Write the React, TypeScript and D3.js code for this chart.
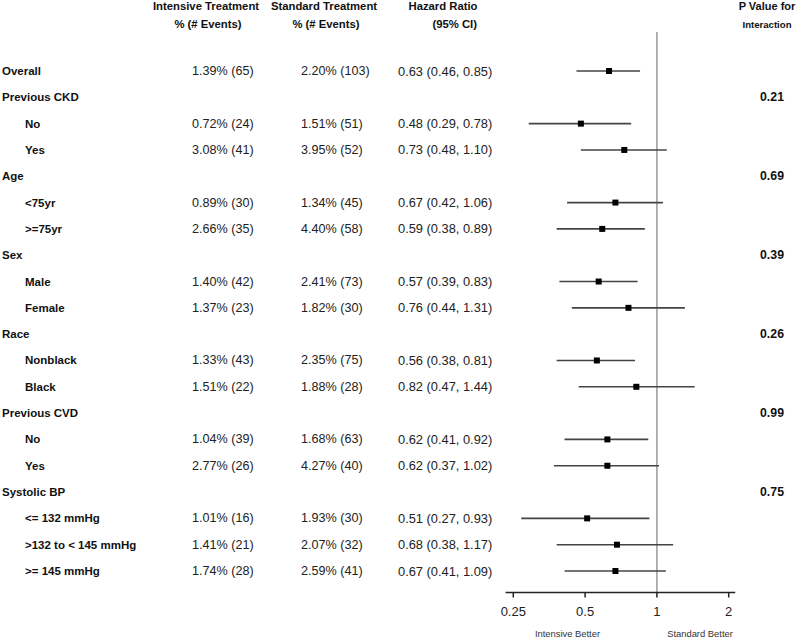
import React from "react";
import * as d3 from "d3";

const rowLabels = [
  "Overall", "Previous CKD", "No", "Yes", "Age", "<75yr", ">=75yr", "Sex", "Male", "Female",
  "Race", "Nonblack", "Black", "Previous CVD", "No", "Yes", "Systolic BP", "<= 132 mmHg",
  ">132 to < 145 mmHg", ">= 145 mmHg",
];
const rowLevels = [0, 0, 1, 1, 0, 1, 1, 0, 1, 1, 0, 1, 1, 0, 1, 1, 0, 1, 1, 1];
const intensiveText = [
  "1.39% (65)", "", "0.72% (24)", "3.08% (41)", "", "0.89% (30)", "2.66% (35)", "", "1.40% (42)", "1.37% (23)",
  "", "1.33% (43)", "1.51% (22)", "", "1.04% (39)", "2.77% (26)", "", "1.01% (16)", "1.41% (21)", "1.74% (28)",
];
const standardText = [
  "2.20% (103)", "", "1.51% (51)", "3.95% (52)", "", "1.34% (45)", "4.40% (58)", "", "2.41% (73)", "1.82% (30)",
  "", "2.35% (75)", "1.88% (28)", "", "1.68% (63)", "4.27% (40)", "", "1.93% (30)", "2.07% (32)", "2.59% (41)",
];
const hrPoint = [0.63, null, 0.48, 0.73, null, 0.67, 0.59, null, 0.57, 0.76, null, 0.56, 0.82, null, 0.62, 0.62, null, 0.51, 0.68, 0.67];
const hrLow = [0.46, null, 0.29, 0.48, null, 0.42, 0.38, null, 0.39, 0.44, null, 0.38, 0.47, null, 0.41, 0.37, null, 0.27, 0.38, 0.41];
const hrHigh = [0.85, null, 0.78, 1.10, null, 1.06, 0.89, null, 0.83, 1.31, null, 0.81, 1.44, null, 0.92, 1.02, null, 0.93, 1.17, 1.09];
const pValues = ["", "0.21", "", "", "0.69", "", "", "0.39", "", "", "0.26", "", "", "0.99", "", "", "0.75", "", "", ""];
const axisTicks = [0.25, 0.5, 1, 2];
const axisTickLabels = ["0.25", "0.5", "1", "2"];
const axisExtent = [0.232, 2.13];

const FONT = "'Liberation Sans', Arial, Helvetica, sans-serif";

export default function App() {
  const x = d3.scaleLog().base(2).domain([0.25, 2]).range([513.3, 728.7]);
  const y = d3.scaleLinear().domain([0, rowLabels.length - 1]).range([71, 571]);
  const axisY = 592.5;
  const fmt = (v: number) => v.toFixed(2);

  return (
    <svg
      width={800}
      height={639}
      style={{ position: "absolute", left: 0, top: 0, background: "#fff" }}
      fontFamily={FONT}
    >
      <rect x={0} y={0} width={800} height={639} fill="#fff" />
      {/* headers */}
      <g fontWeight="bold" fontSize={11.3} fill="#111">
        <text x={206} y={6} textAnchor="middle" dominantBaseline="central">Intensive Treatment</text>
        <text x={208} y={24} textAnchor="middle" dominantBaseline="central">% (# Events)</text>
        <text x={324} y={6} textAnchor="middle" dominantBaseline="central">Standard Treatment</text>
        <text x={326} y={24} textAnchor="middle" dominantBaseline="central">% (# Events)</text>
        <text x={443} y={6} textAnchor="middle" dominantBaseline="central">Hazard Ratio</text>
        <text x={477} y={24} textAnchor="end" dominantBaseline="central">(95% CI)</text>
        <text x={767} y={6} textAnchor="middle" dominantBaseline="central" fontSize={11}>P Value for</text>
        <text x={767} y={24} textAnchor="middle" dominantBaseline="central" fontSize={9.6}>Interaction</text>
      </g>

      {/* reference line */}
      <line x1={x(1)} x2={x(1)} y1={32} y2={axisY} stroke="#9a9a9a" strokeWidth={1.5} />

      {/* rows */}
      {rowLabels.map((lab, i) => {
        const yy = y(i);
        const p = hrPoint[i];
        return (
          <g key={i}>
            <text
              x={rowLevels[i] === 0 ? 2 : 25}
              y={yy}
              dominantBaseline="central"
              fontWeight="bold"
              fontSize={11.5}
              fill="#111"
            >
              {lab}
            </text>
            {intensiveText[i] && (
              <text x={192} y={yy} dominantBaseline="central" fontSize={12.6} fill="#222">{intensiveText[i]}</text>
            )}
            {standardText[i] && (
              <text x={301} y={yy} dominantBaseline="central" fontSize={12.6} fill="#222">{standardText[i]}</text>
            )}
            {p !== null && (
              <>
                <text x={398} y={yy} dominantBaseline="central" fontSize={12.85} fill="#222">
                  {`${fmt(p)} (${fmt(hrLow[i] as number)}, ${fmt(hrHigh[i] as number)})`}
                </text>
                <line
                  x1={x(hrLow[i] as number)}
                  x2={x(hrHigh[i] as number)}
                  y1={yy}
                  y2={yy}
                  stroke="#444"
                  strokeWidth={1.6}
                />
                <rect x={x(p) - 3} y={yy - 3} width={6} height={6} fill="#000" />
              </>
            )}
            {pValues[i] && (
              <text x={772} y={yy} textAnchor="middle" dominantBaseline="central" fontWeight="bold" fontSize={12.3} fill="#111">
                {pValues[i]}
              </text>
            )}
          </g>
        );
      })}

      {/* axis */}
      <line x1={x(axisExtent[0])} x2={x(axisExtent[1])} y1={axisY} y2={axisY} stroke="#222" strokeWidth={1.5} />
      {axisTicks.map((t, i) => (
        <g key={t}>
          <line x1={x(t)} x2={x(t)} y1={axisY} y2={axisY + 5} stroke="#222" strokeWidth={1.5} />
          <text x={x(t)} y={611.5} textAnchor="middle" dominantBaseline="central" fontSize={13} fill="#222">
            {axisTickLabels[i]}
          </text>
        </g>
      ))}
      <text x={567.5} y={633} textAnchor="middle" dominantBaseline="central" fontSize={9.4} fill="#333">Intensive Better</text>
      <text x={700} y={633} textAnchor="middle" dominantBaseline="central" fontSize={9.4} fill="#333">Standard Better</text>
    </svg>
  );
}
